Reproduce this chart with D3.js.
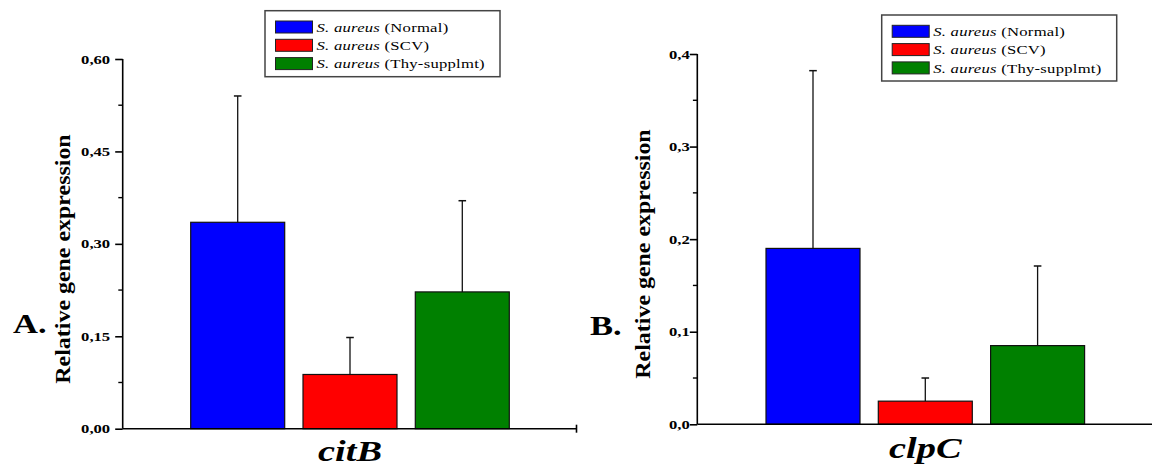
<!DOCTYPE html>
<html>
<head>
<meta charset="utf-8">
<script src="https://cdn.jsdelivr.net/npm/d3@7"></script>
<style>
  html, body { margin: 0; padding: 0; background: #fff; }
  svg { display: block; }
  text { font-family: "Liberation Serif", "Times New Roman", serif; fill: #000; }
</style>
</head>
<body>
<svg id="chart" width="1152" height="468"></svg>
<script>
// ---- data ----
const groups = ["S. aureus (Normal)", "S. aureus (SCV)", "S. aureus (Thy-supplmt)"];
const legendItalic = ["S. aureus", "S. aureus", "S. aureus"];
const legendRest = [" (Normal)", " (SCV)", " (Thy-supplmt)"];
const colors = ["#0000ff", "#ff0000", "#008000"];

const citBValues = [0.335, 0.088, 0.222];
const citBErrors = [0.205, 0.060, 0.148];
const citBTicks = [0, 0.15, 0.30, 0.45, 0.60];

const clpCValues = [0.190, 0.025, 0.085];
const clpCErrors = [0.192, 0.025, 0.086];
const clpCTicks = [0, 0.1, 0.2, 0.3, 0.4];

const geneLabels = ["citB", "clpC"];
const panelLetters = ["A.", "B."];
const yTitle = "Relative gene expression";

// ---- layout ----
const SX = 1.28; // horizontal text stretch seen in the reference
const svg = d3.select("#chart");

const panels = [
  { gene: geneLabels[0], letter: panelLetters[0], values: citBValues, errors: citBErrors, ticks: citBTicks,
    decimals: 2, axisX: 122.7, axisRight: 577, yTop: 59, yBottom: 428.7, labelGap: 12.5,
    bandRange: [172.4, 527.6], letterX: 13, letterY: 333.3, titleX: 70, titleY: 259,
    geneY: 461.3, legend: { x: 265, y: 10.7 }, endTick: true },
  { gene: geneLabels[1], letter: panelLetters[1], values: clpCValues, errors: clpCErrors, ticks: clpCTicks,
    decimals: 1, axisX: 697.3, axisRight: 1152, yTop: 54, yBottom: 424.3, labelGap: 7.5,
    bandRange: [747.7, 1102.9], letterX: 590, letterY: 335, titleX: 650, titleY: 254,
    geneY: 458.3, legend: { x: 881.7, y: 15 }, endTick: false }
];

function stretchedText(parent, x, y, str, opts) {
  const tr = opts.rotate
    ? `translate(${x},${y}) rotate(${opts.rotate}) scale(${opts.sx || 1},1)`
    : `translate(${x},${y}) scale(${opts.sx || SX},1)`;
  const g = parent.append("g").attr("transform", tr);
  const t = g.append("text")
    .attr("text-anchor", opts.anchor || "start")
    .style("font-size", opts.size + "px")
    .style("font-weight", opts.weight || "normal")
    .style("font-style", opts.style || "normal")
    .text(str);
  if (opts.spacing) t.style("letter-spacing", opts.spacing + "px");
  return t;
}

panels.forEach(p => {
  const g = svg.append("g");
  const maxV = p.ticks[p.ticks.length - 1];
  const y = d3.scaleLinear().domain([0, maxV]).range([p.yBottom, p.yTop]);
  const x = d3.scaleBand().domain(groups).range(p.bandRange).padding(0.163);

  // bars
  g.selectAll("rect.bar").data(groups).enter().append("rect")
    .attr("class", "bar")
    .attr("x", d => x(d))
    .attr("width", x.bandwidth())
    .attr("y", (d, i) => y(p.values[i]))
    .attr("height", (d, i) => y(0) - y(p.values[i]))
    .attr("fill", (d, i) => colors[i])
    .attr("stroke", "#111")
    .attr("stroke-width", 1.2);

  // error bars
  groups.forEach((d, i) => {
    const cx = x(d) + x.bandwidth() / 2;
    const top = y(p.values[i] + p.errors[i]);
    g.append("line").attr("x1", cx).attr("x2", cx)
      .attr("y1", y(p.values[i])).attr("y2", top)
      .attr("stroke", "#111").attr("stroke-width", 1.3);
    g.append("line").attr("x1", cx - 3.8).attr("x2", cx + 3.8)
      .attr("y1", top).attr("y2", top)
      .attr("stroke", "#111").attr("stroke-width", 1.5);
  });

  // y axis
  const fmt = v => v.toFixed(p.decimals).replace(".", ",");
  const yAxis = d3.axisLeft(y).tickValues(p.ticks).tickFormat(fmt).tickSize(7.5).tickPadding(4);
  const ag = g.append("g").attr("transform", `translate(${p.axisX},0)`).call(yAxis);
  ag.select(".domain").attr("stroke", "#000").attr("stroke-width", 1.6).attr("d", `M0,${p.yTop}V${p.yBottom}`);
  ag.selectAll(".tick line").attr("stroke", "#000").attr("stroke-width", 1.6);
  ag.selectAll(".tick text").remove();
  // minor ticks
  const minors = d3.pairs(p.ticks).map(([a, b]) => (a + b) / 2);
  ag.selectAll("line.minor").data(minors).enter().append("line")
    .attr("class", "minor")
    .attr("x1", -4.4).attr("x2", 0)
    .attr("y1", d => y(d)).attr("y2", d => y(d))
    .attr("stroke", "#000").attr("stroke-width", 1.4);
  // tick labels (stretched)
  p.ticks.forEach(t => {
    stretchedText(g, p.axisX - p.labelGap, y(t) + 4.6, fmt(t), { anchor: "end", size: 13, weight: "bold" });
  });

  // x axis
  g.append("line").attr("x1", p.axisX).attr("x2", p.axisRight)
    .attr("y1", y(0)).attr("y2", y(0))
    .attr("stroke", "#000").attr("stroke-width", 1.6);
  if (p.endTick) {
    g.append("line").attr("x1", p.axisRight - 0.5).attr("x2", p.axisRight - 0.5)
      .attr("y1", y(0) - 4).attr("y2", y(0) + 4)
      .attr("stroke", "#000").attr("stroke-width", 1.6);
  }

  // gene label
  stretchedText(g, (p.bandRange[0] + p.bandRange[1]) / 2, p.geneY, p.gene,
    { anchor: "middle", size: 30, weight: "bold", style: "italic" });

  // y title
  stretchedText(g, p.titleX, p.titleY, yTitle,
    { anchor: "middle", size: 21, weight: "bold", rotate: -90, sx: 1.14 });

  // panel letter
  stretchedText(g, p.letterX, p.letterY, p.letter, { anchor: "start", size: 27, weight: "bold" });

  // legend
  const lg = g.append("g").attr("transform", `translate(${p.legend.x},${p.legend.y})`);
  lg.append("rect").attr("x", 0).attr("y", 0).attr("width", 235).attr("height", 66)
    .attr("fill", "#fff").attr("stroke", "#444").attr("stroke-width", 1.5);
  groups.forEach((d, i) => {
    const cy = 16.3 + i * 18.3;
    lg.append("rect").attr("x", 10.5).attr("y", cy - 6).attr("width", 37).attr("height", 12)
      .attr("fill", colors[i]).attr("stroke", "#222").attr("stroke-width", 1);
    const t = stretchedText(lg, 51.5, cy + 4.6, "", { anchor: "start", size: 13, spacing: 0.2 });
    t.append("tspan").style("font-style", "italic").text(legendItalic[i]);
    t.append("tspan").text(legendRest[i]);
  });
});
</script>
</body>
</html>
